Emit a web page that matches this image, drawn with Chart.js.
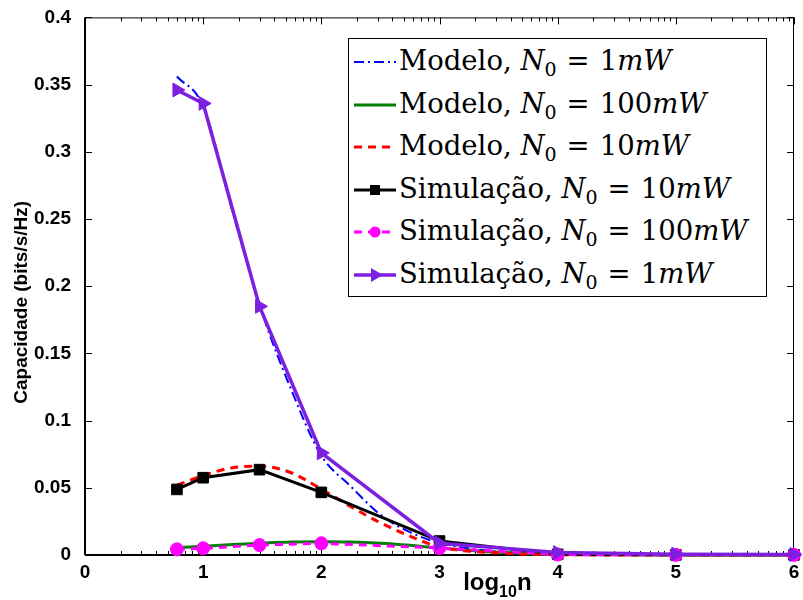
<!DOCTYPE html>
<html>
<head>
<meta charset="utf-8">
<script src="https://cdn.jsdelivr.net/npm/chart.js@4.4.1/dist/chart.umd.min.js"></script>
<style>
  html, body { margin: 0; padding: 0; background: #fff; }
  #wrap { position: relative; width: 803px; height: 600px; }
  #legend {
    position: absolute; left: 348px; top: 38px; width: 419px; height: 259px;
    border: 1.5px solid #000; background: #fff; box-sizing: border-box;
    font-family: "DejaVu Serif", "Liberation Serif", serif; font-size: 27.5px; color: #000;
    padding-top: 2px;
  }
  #legend .row { display: flex; align-items: center; height: 42.5px; white-space: nowrap; }
  #legend svg { margin-left: 5px; margin-right: 3px; flex: none; }
  #legend sub { font-size: 19px; vertical-align: -6px; font-style: normal; }
  #legend i { font-style: italic; }
  #legend .eq { margin: 0 10px; }
</style>
</head>
<body>
<div id="wrap">
  <canvas id="capChart" width="803" height="600"></canvas>
  <div id="legend"></div>
</div>
<script>
// x positions (log10 n)
const simX = [0.778, 1, 1.477, 2, 3, 4, 5, 6];
const modelX = [0.778, 1, 1.25, 1.5, 1.75, 2, 2.25, 2.5, 2.75, 3, 3.5, 4, 5, 6];

// model curves
const model1mW = [0.356, 0.334, 0.255, 0.180, 0.122, 0.074, 0.051, 0.030, 0.017, 0.009, 0.0025, 0.0006, 0.0001, 0.0];
const model100mW = [0.0055, 0.0065, 0.0078, 0.0088, 0.0096, 0.0099, 0.0097, 0.0088, 0.0072, 0.0052, 0.002, 0.0004, 0.0, 0.0];
const model10mW = [0.052, 0.059, 0.065, 0.066, 0.061, 0.049, 0.036, 0.024, 0.014, 0.006, 0.0015, 0.0003, 0.0, 0.0];

// simulation points
const sim10mW = [0.0488, 0.0575, 0.0635, 0.0466, 0.0104, 0.0005, 0.0001, 0.0001];
const sim100mW = [0.0042, 0.0050, 0.0074, 0.0087, 0.0052, 0.0003, 0.0001, 0.0001];
const sim1mW = [0.346, 0.336, 0.185, 0.076, 0.0088, 0.0018, 0.0006, 0.0004];

const xTicks = [0, 1, 2, 3, 4, 5, 6];

const PURPLE = "#7d1fe0";
const AXIS_FONT = "'Liberation Sans', Arial, sans-serif";

function pts(xs, ys) {
  return xs.map((x, i) => ({ x: x, y: ys[i] }));
}

// box with inward ticks, matlab style
const boxTicks = {
  id: "boxTicks",
  beforeDatasetsDraw(chart) {
    const { ctx, chartArea: a, scales: { x, y } } = chart;
    ctx.save();
    ctx.strokeStyle = "#000";
    ctx.lineWidth = 1;
    ctx.beginPath();
    // major x ticks
    xTicks.forEach(v => {
      const px = Math.round(x.getPixelForValue(v)) + 0.5;
      ctx.moveTo(px, a.bottom); ctx.lineTo(px, a.bottom - 7);
      ctx.moveTo(px, a.top); ctx.lineTo(px, a.top + 7);
    });
    // minor log ticks
    for (let d = 0; d < 6; d++) {
      for (let k = 2; k <= 9; k++) {
        const px = Math.round(x.getPixelForValue(d + Math.log10(k))) + 0.5;
        ctx.moveTo(px, a.bottom); ctx.lineTo(px, a.bottom - 4);
        ctx.moveTo(px, a.top); ctx.lineTo(px, a.top + 4);
      }
    }
    // y ticks
    y.ticks.forEach(t => {
      const py = Math.round(y.getPixelForValue(t.value)) + 0.5;
      ctx.moveTo(a.left, py); ctx.lineTo(a.left + 7, py);
      ctx.moveTo(a.right, py); ctx.lineTo(a.right - 7, py);
    });
    ctx.stroke();
    ctx.strokeRect(a.left + 0.5, a.top + 0.5, a.width - 1, a.height - 1);
    ctx.lineWidth = 2;
    ctx.beginPath();
    ctx.moveTo(a.left, a.bottom); ctx.lineTo(a.right, a.bottom);
    ctx.moveTo(a.left, a.top); ctx.lineTo(a.left, a.bottom);
    ctx.stroke();
    ctx.restore();
  },
  afterDraw(chart) {
    const { ctx, scales: { x, y } } = chart;
    ctx.save();
    ctx.fillStyle = "#000";
    // x axis label log10 n with subscript
    ctx.textBaseline = "alphabetic";
    let px = x.getPixelForValue(3.2);
    const base = 590;
    ctx.font = "bold 24px " + AXIS_FONT;
    ctx.fillText("log", px, base);
    px += ctx.measureText("log").width;
    ctx.font = "bold 16px " + AXIS_FONT;
    ctx.fillText("10", px, base + 7);
    px += ctx.measureText("10").width;
    ctx.font = "bold 24px " + AXIS_FONT;
    ctx.fillText("n", px, base);
    // y axis label
    ctx.translate(22, y.getPixelForValue(0.188));
    ctx.rotate(-Math.PI / 2);
    ctx.textAlign = "center";
    ctx.textBaseline = "middle";
    ctx.font = "bold 19px " + AXIS_FONT;
    ctx.fillText("Capacidade (bits/s/Hz)", 0, 0);
    ctx.restore();
  }
};

const ctx = document.getElementById("capChart").getContext("2d");

new Chart(ctx, {
  type: "line",
  data: {
    datasets: [
      {
        label: "Modelo, N0 = 1mW",
        data: pts(modelX, model1mW),
        borderColor: "#0000ff",
        borderWidth: 2,
        borderDash: [10, 4, 2, 4],
        pointRadius: 0,
        cubicInterpolationMode: "monotone",
        order: 5
      },
      {
        label: "Modelo, N0 = 100mW",
        data: pts(modelX, model100mW),
        borderColor: "#008000",
        borderWidth: 3,
        pointRadius: 0,
        cubicInterpolationMode: "monotone",
        order: 4
      },
      {
        label: "Modelo, N0 = 10mW",
        data: pts(modelX, model10mW),
        borderColor: "#ff0000",
        borderWidth: 3,
        borderDash: [8, 6],
        pointRadius: 0,
        cubicInterpolationMode: "monotone",
        order: 3
      },
      {
        label: "Simulação, N0 = 10mW",
        data: pts(simX, sim10mW),
        borderColor: "#000000",
        backgroundColor: "#000000",
        borderWidth: 3,
        pointStyle: "rect",
        pointRadius: 7.5,
        pointBorderWidth: 1,
        order: 2
      },
      {
        label: "Simulação, N0 = 100mW",
        data: pts(simX, sim100mW),
        borderColor: "#ff00ff",
        backgroundColor: "#ff00ff",
        borderWidth: 3,
        borderDash: [8, 6],
        pointStyle: "circle",
        pointRadius: 6.5,
        pointBorderWidth: 1,
        order: 1
      },
      {
        label: "Simulação, N0 = 1mW",
        data: pts(simX, sim1mW),
        borderColor: PURPLE,
        backgroundColor: PURPLE,
        borderWidth: 3.5,
        pointStyle: "triangle",
        rotation: 90,
        pointRadius: 8,
        pointBorderWidth: 1,
        order: 0
      }
    ]
  },
  options: {
    responsive: false,
    animation: false,
    clip: false,
    layout: { padding: { top: 17, right: 5, left: 0, bottom: 0 } },
    plugins: {
      legend: { display: false },
      tooltip: { enabled: false }
    },
    scales: {
      x: {
        type: "linear",
        min: 0,
        max: 6,
        grid: { display: false },
        border: { display: false },
        afterBuildTicks: s => { s.ticks = xTicks.map(v => ({ value: v })); },
        afterFit: s => { s.height = 45; },
        ticks: {
          padding: -2,
          color: "#000",
          font: { family: AXIS_FONT, size: 19, weight: "bold" }
        }
      },
      y: {
        min: 0,
        max: 0.4,
        grid: { display: false },
        border: { display: false },
        afterFit: s => { s.width = 85; },
        ticks: {
          stepSize: 0.05,
          padding: 6,
          color: "#000",
          callback: v => String(+v.toFixed(2)),
          font: { family: AXIS_FONT, size: 19, weight: "bold" }
        }
      }
    }
  },
  plugins: [boxTicks]
});

// legend with math italics
const legendItems = [
  { name: "Modelo", n0: "1", color: "#0000ff", dash: "10 4 2 4", w: 2, marker: null },
  { name: "Modelo", n0: "100", color: "#008000", dash: "", w: 3, marker: null },
  { name: "Modelo", n0: "10", color: "#ff0000", dash: "8 6", w: 3, marker: null },
  { name: "Simulação", n0: "10", color: "#000000", dash: "", w: 3, marker: "rect" },
  { name: "Simulação", n0: "100", color: "#ff00ff", dash: "8 6", w: 3, marker: "circle" },
  { name: "Simulação", n0: "1", color: PURPLE, dash: "", w: 3.5, marker: "tri" }
];

function markerSvg(m, c) {
  if (m === "rect") return `<rect x="16" y="6" width="10" height="10" fill="${c}"/>`;
  if (m === "circle") return `<circle cx="21" cy="11" r="5.5" fill="${c}"/>`;
  if (m === "tri") return `<polygon points="29,11 17,4 17,18" fill="${c}"/>`;
  return "";
}

document.getElementById("legend").innerHTML = legendItems.map(it => `
  <div class="row">
    <svg width="42" height="22"><line x1="0" y1="11" x2="42" y2="11" stroke="${it.color}"
      stroke-width="${it.w}" ${it.dash ? `stroke-dasharray="${it.dash}"` : ""}/>${markerSvg(it.marker, it.color)}</svg>
    <span>${it.name}, <i>N</i><sub>0</sub><span class="eq">=</span>${it.n0}<i>mW</i></span>
  </div>`).join("");
</script>
</body>
</html>
